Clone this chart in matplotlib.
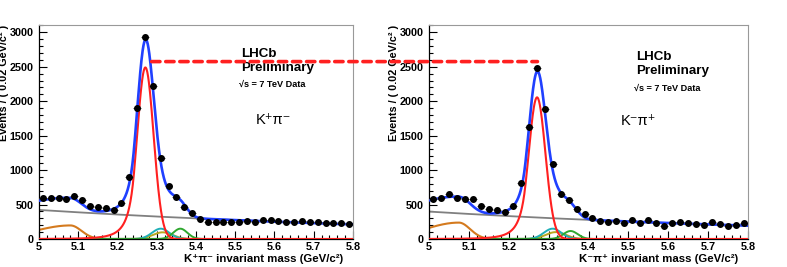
#!/usr/bin/env python3
"""
B -> K pi invariant mass fits, K+pi- vs K-pi+ (LHCb preliminary, 7 TeV)
"""
import numpy as np
import matplotlib
matplotlib.use("Agg")
import matplotlib.pyplot as plt
from matplotlib.patches import ConnectionPatch
from matplotlib.ticker import MultipleLocator

plt.rcParams["font.family"] = ["Liberation Sans", "DejaVu Sans"]

# ── Binned data (bin centres, 0.02 GeV/c^2 bins) ──────────────────────
bin_centres = [5.01, 5.03, 5.05, 5.07, 5.09, 5.11, 5.13, 5.15, 5.17, 5.19,
               5.21, 5.23, 5.25, 5.27, 5.29, 5.31, 5.33, 5.35, 5.37, 5.39,
               5.41, 5.43, 5.45, 5.47, 5.49, 5.51, 5.53, 5.55, 5.57, 5.59,
               5.61, 5.63, 5.65, 5.67, 5.69, 5.71, 5.73, 5.75, 5.77, 5.79]

counts_kpluspi = [590, 590, 590, 580, 629, 566, 484, 464, 450, 421,
                  527, 905, 1901, 2927, 2221, 1171, 774, 610, 460, 380,
                  290, 252, 247, 252, 252, 247, 266, 242, 276, 276,
                  266, 242, 247, 261, 252, 247, 237, 227, 227, 218]

counts_kminuspi = [580, 600, 648, 600, 580, 580, 484, 440, 421, 387,
                   484, 818, 1625, 2482, 1882, 1084, 648, 568, 440, 358,
                   300, 261, 252, 261, 237, 281, 232, 276, 227, 194,
                   232, 242, 232, 223, 208, 242, 218, 189, 208, 232]

# ── Fit components: [K+pi-, K-pi+] ──────────────────────────────────
# signal (Crystal Ball): peak height, mean, sigma, alpha, n
sig_height = [2490, 2056]
sig_mean = [5.271, 5.271]
sig_sigma = [0.021, 0.021]
sig_alpha = [1.4, 1.4]
sig_n = [4.0, 4.0]
# combinatorial (exponential): value at 5.0, slope
comb_at5 = [422, 398]
comb_slope = [-0.86, -0.90]
# partially reconstructed (bifurcated gaussian): height, mean, sigma_L, sigma_R
prc_height = [197, 238]
prc_mean = [5.08, 5.075]
prc_sigma_l = [0.09, 0.085]
prc_sigma_r = [0.028, 0.028]
# misidentified peaks: height, mean, sigma
cyan_pk = [[150, 5.31, 0.022], [150, 5.31, 0.022]]
olive_pk = [[97, 5.315, 0.025], [100, 5.318, 0.025]]
green_pk = [[150, 5.36, 0.018], [116, 5.355, 0.018]]
zero_pk = [[0, 5.62, 0.02], [0, 5.62, 0.02]]
# undrawn component folded into the total
other_pk = [[130, 5.33, 0.03], [110, 5.33, 0.03]]

peak_marker_level = 2575
panel_names = ["K⁺π⁻", "K⁻π⁺"]
xlabels = ["K⁺π⁻ invariant mass (GeV/c²)", "K⁻π⁺ invariant mass (GeV/c²)"]
# label anchor positions (data coords) per panel
lhcb_x = [5.515, 5.52]
lhcb_y = [2685, 2637]
prelim_y = [2475, 2438]
sqrts_y = [2242, 2187]
name_xy = [[5.553, 1727], [5.48, 1717]]


def gauss(m, h, mu, s):
    return h * np.exp(-0.5 * ((m - mu) / s) ** 2)


def crystal_ball(m, h, mu, s, a, n):
    t = (m - mu) / s
    A = (n / a) ** n * np.exp(-0.5 * a * a)
    B = n / a - a
    tail = A * np.abs(B - t) ** (-n)
    return h * np.where(t > -a, np.exp(-0.5 * t * t), tail)


def bifur(m, h, mu, sl, sr):
    s = np.where(m < mu, sl, sr)
    return h * np.exp(-0.5 * ((m - mu) / s) ** 2)


fig = plt.figure(figsize=(7.87, 2.67), dpi=100)
ax_pos = [[39 / 787, 28 / 267, 314 / 787, 214 / 267],
          [429 / 787, 28 / 267, 319 / 787, 214 / 267]]
ylab_x = [-0.094, -0.0925]
counts_all = [counts_kpluspi, counts_kminuspi]
axes = []
m = np.linspace(5.0, 5.8, 801)

for i in range(2):
    ax = fig.add_axes(ax_pos[i])
    axes.append(ax)

    sig = crystal_ball(m, sig_height[i], sig_mean[i], sig_sigma[i],
                       sig_alpha[i], sig_n[i])
    comb = comb_at5[i] * np.exp(comb_slope[i] * (m - 5.0))
    prc = bifur(m, prc_height[i], prc_mean[i], prc_sigma_l[i], prc_sigma_r[i])
    cyan = gauss(m, *cyan_pk[i])
    olive = gauss(m, *olive_pk[i])
    green = gauss(m, *green_pk[i])
    zero = gauss(m, *zero_pk[i])
    other = gauss(m, *other_pk[i])
    total = sig + comb + prc + cyan + olive + green + other

    ax.plot(m, zero, color="#2020ff", lw=1.8, zorder=2)
    ax.plot(m, comb, color="#808080", lw=1.3, zorder=2)
    ax.plot(m, prc, color="#d47a1e", lw=1.5, zorder=2)
    ax.plot(m, olive, color="#b8a820", lw=1.4, zorder=2)
    ax.plot(m, cyan, color="#20b0b8", lw=1.4, zorder=2)
    ax.plot(m, green, color="#30a830", lw=1.4, zorder=2)
    ax.plot(m, sig, color="#ff2020", lw=1.5, zorder=3)
    ax.plot(m, total, color="#2040ff", lw=1.9, zorder=4)

    y = np.array(counts_all[i])
    ax.errorbar(bin_centres, y, xerr=0.01, yerr=np.sqrt(y), fmt="none",
                ecolor="#555555", elinewidth=0.7, zorder=5)
    ax.plot(bin_centres, y, "o", color="black", ms=4.0, zorder=6)

    ax.set_xlim(5.0, 5.8)
    ax.set_ylim(0, 3106)
    ax.xaxis.set_minor_locator(MultipleLocator(0.02))
    ax.yaxis.set_major_locator(MultipleLocator(500))
    ax.yaxis.set_minor_locator(MultipleLocator(100))
    ax.set_xticks([5.0, 5.1, 5.2, 5.3, 5.4, 5.5, 5.6, 5.7, 5.8])
    ax.set_xticklabels(["5", "5.1", "5.2", "5.3", "5.4", "5.5", "5.6",
                        "5.7", "5.8"])
    ax.tick_params(which="both", direction="in", top=False, right=False,
                   labelsize=7.8, width=0.8)
    ax.tick_params(axis="y", pad=4)
    ax.tick_params(axis="x", pad=2)
    ax.tick_params(which="major", length=6)
    ax.tick_params(which="minor", length=3)
    for lab in ax.get_xticklabels() + ax.get_yticklabels():
        lab.set_fontweight("bold")
    ax.spines["top"].set_color("#999999")
    ax.spines["right"].set_color("#999999")
    ax.spines["left"].set_linewidth(0.9)
    ax.spines["bottom"].set_linewidth(0.9)

    ax.set_xlabel(xlabels[i], fontsize=8.2, fontweight="bold", loc="right")
    ax.xaxis.set_label_coords(0.97, -0.068)
    ax.set_ylabel("Events / ( 0.02 GeV/c² )", fontsize=7.8,
                  fontweight="bold", loc="top")
    ax.yaxis.set_label_coords(ylab_x[i], 1.0)

    ax.text(lhcb_x[i], lhcb_y[i], "LHCb", fontsize=9.6, fontweight="bold",
            ha="left", va="center")
    ax.text(lhcb_x[i], prelim_y[i], "Preliminary", fontsize=9.6,
            fontweight="bold", ha="left", va="center")
    ax.text(lhcb_x[i] - 0.006, sqrts_y[i], "√s = 7 TeV Data", fontsize=6.6,
            fontweight="bold", ha="left", va="center")
    ax.text(name_xy[i][0], name_xy[i][1], panel_names[i], fontsize=10.5,
            ha="left", va="center")

# dashed marker joining the K+pi- peak level to the K-pi+ peak
con = ConnectionPatch(xyA=(5.287, peak_marker_level), coordsA=axes[0].transData,
                      xyB=(5.272, peak_marker_level), coordsB=axes[1].transData,
                      color="#ff2020", lw=2.6, linestyle=(0, (2.3, 1.6)),
                      zorder=10)
fig.add_artist(con)

fig.savefig("out.png", dpi=100)
